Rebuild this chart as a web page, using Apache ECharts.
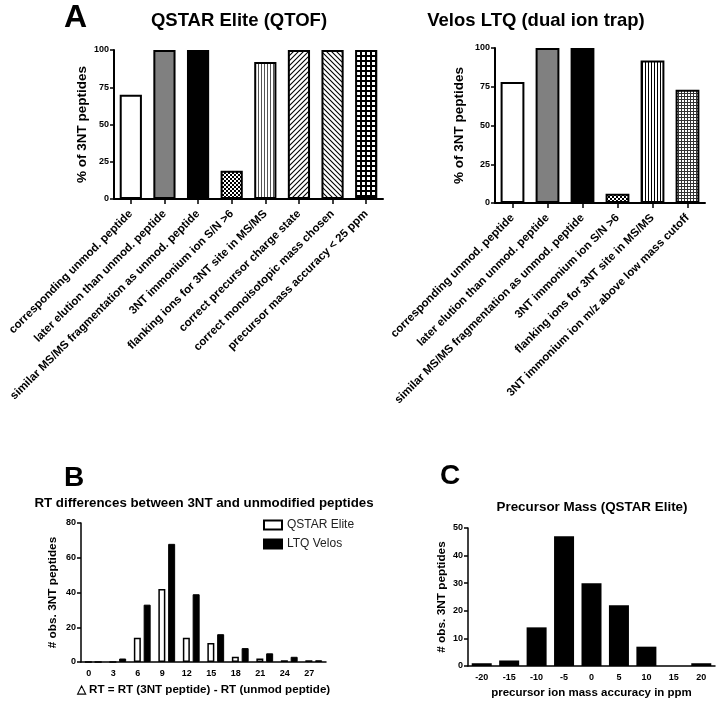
<!DOCTYPE html>
<html><head><meta charset="utf-8">
<script src="https://cdn.jsdelivr.net/npm/echarts@6/dist/echarts.min.js"></script>
<style>html,body{margin:0;padding:0;background:#fff}#c{width:724px;height:705px}</style>
</head><body><div id="c"></div>
<script>
// ---------- data ----------
const qstarCategories = [
  'corresponding unmod. peptide',
  'later elution than unmod. peptide',
  'similar MS/MS fragmentation as unmod. peptide',
  '3NT immonium ion S/N >6',
  'flanking ions for 3NT site in MS/MS',
  'correct precursor charge state',
  'correct monoisotopic mass chosen',
  'precursor mass accuracy < 25 ppm'
];
const qstarValues = [70, 100, 100, 19, 92, 100, 100, 100];

const velosCategories = [
  'corresponding unmod. peptide',
  'later elution than unmod. peptide',
  'similar MS/MS fragmentation as unmod. peptide',
  '3NT immonium ion S/N >6',
  'flanking ions for 3NT site in MS/MS',
  '3NT immonium ion m/z above low mass cutoff'
];
const velosValues = [78, 100, 100, 6, 92, 73];

const rtCategories = ['0', '3', '6', '9', '12', '15', '18', '21', '24', '27'];
const rtQstar = [0, 0, 14, 42, 14, 11, 3, 2, 1, 1];
const rtVelos = [0, 2, 33, 68, 39, 16, 8, 5, 3, 1];

const ppmCategories = ['-20', '-15', '-10', '-5', '0', '5', '10', '15', '20'];
const ppmCounts = [1, 2, 14, 47, 30, 22, 7, 0, 1];

// ---------- styles ----------
const FONT = '"Liberation Sans", Arial, sans-serif';
function pat(w, h, draw) {
  const c = document.createElement('canvas');
  c.width = w; c.height = h;
  const g = c.getContext('2d');
  g.fillStyle = '#fff'; g.fillRect(0, 0, w, h);
  draw(g);
  return { image: c, repeat: 'repeat' };
}
const checker = pat(4, 4, g => { g.fillStyle = '#000'; g.fillRect(0, 0, 2, 2); g.fillRect(2, 2, 2, 2); });
const vstripeGray = pat(3, 1, g => { g.fillStyle = '#555'; g.fillRect(0, 0, 1, 1); });
const vstripeBlack = pat(3, 1, g => { g.fillStyle = '#000'; g.fillRect(0, 0, 1, 1); });
const diagFwd = pat(5, 5, g => {
  g.strokeStyle = '#000'; g.lineWidth = 1.1; g.beginPath();
  g.moveTo(0, 5); g.lineTo(5, 0); g.moveTo(-1, 1); g.lineTo(1, -1); g.moveTo(4, 6); g.lineTo(6, 4); g.stroke();
});
const diagBack = pat(5, 5, g => {
  g.strokeStyle = '#000'; g.lineWidth = 1.1; g.beginPath();
  g.moveTo(0, 0); g.lineTo(5, 5); g.moveTo(-1, 4); g.lineTo(1, 6); g.moveTo(4, -1); g.lineTo(6, 1); g.stroke();
});
const gridCoarse = pat(5, 5, g => { g.fillStyle = '#000'; g.fillRect(0, 0, 5, 2); g.fillRect(0, 0, 2, 5); });
const gridFine = pat(3, 3, g => { g.fillStyle = '#333'; g.fillRect(0, 0, 3, 1); g.fillRect(0, 0, 1, 3); });

const qstarFills = ['#ffffff', '#808080', '#000000', checker, vstripeGray, diagFwd, diagBack, gridCoarse];
const velosFills = ['#ffffff', '#808080', '#000000', checker, vstripeBlack, gridFine];

const axisLineA = { show: true, lineStyle: { color: '#000', width: 2 } };
const axisLineB = { show: true, lineStyle: { color: '#000', width: 1.5 } };
const tickLabel = { color: '#000', fontSize: 9, fontWeight: 'bold', fontFamily: FONT };

function catAxisA(grid, cats) {
  return {
    type: 'category', gridIndex: grid, data: cats,
    axisLine: axisLineA,
    axisTick: { show: true, alignWithLabel: true, length: 5, lineStyle: { color: '#000', width: 1.5 } },
    axisLabel: { interval: 0, rotate: 45, margin: 13, color: '#000', fontSize: 11.5, fontWeight: 'bold', fontFamily: FONT }
  };
}
function valAxis(grid, max, interval, name, gap, nameSize, line) {
  return {
    type: 'value', gridIndex: grid, min: 0, max: max, interval: interval,
    name: name, nameLocation: 'middle', nameRotate: 90, nameGap: gap,
    nameTextStyle: { color: '#000', fontSize: nameSize, fontWeight: 'bold', fontFamily: FONT },
    axisLine: line,
    axisTick: { show: true, length: 4, lineStyle: { color: '#000', width: 1.5 } },
    splitLine: { show: false },
    axisLabel: Object.assign({ margin: 5 }, tickLabel)
  };
}

const chart = echarts.init(document.getElementById('c'), null, { renderer: 'canvas' });
chart.setOption({
  backgroundColor: '#fff',
  animation: false,
  textStyle: { fontFamily: FONT },
  grid: [
    { left: 114, top: 50, width: 269, height: 149 },
    { left: 495, top: 48, width: 210, height: 155 },
    { left: 81, top: 523, width: 245, height: 139 },
    { left: 468, top: 528, width: 247, height: 138 }
  ],
  xAxis: [
    catAxisA(0, qstarCategories),
    catAxisA(1, velosCategories),
    {
      type: 'category', gridIndex: 2, data: rtCategories,
      name: '△ RT = RT (3NT peptide) - RT (unmod peptide)', nameLocation: 'middle', nameGap: 22,
      nameTextStyle: { color: '#000', fontSize: 11.6, fontWeight: 'bold', fontFamily: FONT },
      axisLine: axisLineB, axisTick: { show: false },
      axisLabel: Object.assign({ interval: 0, margin: 7, padding: [0, 9, 0, 0] }, tickLabel)
    },
    {
      type: 'category', gridIndex: 3, data: ppmCategories,
      name: 'precursor ion mass accuracy in ppm', nameLocation: 'middle', nameGap: 21,
      nameTextStyle: { color: '#000', fontSize: 11.5, fontWeight: 'bold', fontFamily: FONT },
      axisLine: axisLineB, axisTick: { show: false },
      axisLabel: Object.assign({ interval: 0, margin: 7 }, tickLabel)
    }
  ],
  yAxis: [
    valAxis(0, 100, 25, '% of 3NT peptides', 25, 13.5, axisLineA),
    valAxis(1, 100, 25, '% of 3NT peptides', 29, 13.5, axisLineA),
    valAxis(2, 80, 20, '# obs. 3NT peptides', 22, 11.8, axisLineB),
    valAxis(3, 50, 10, '# obs. 3NT peptides', 20, 11.8, axisLineB)
  ],
  legend: {
    data: ['QSTAR Elite', 'LTQ Velos'], orient: 'vertical', left: 258, top: 514,
    itemWidth: 18, itemHeight: 9, itemGap: 7, icon: 'rect',
    textStyle: { fontSize: 12, color: '#222', fontFamily: FONT }
  },
  series: [
    {
      type: 'bar', xAxisIndex: 0, yAxisIndex: 0, barWidth: '66%',
      itemStyle: { borderColor: '#000', borderWidth: 2 },
      data: qstarValues.map((v, i) => ({ value: v, itemStyle: { color: qstarFills[i] } }))
    },
    {
      type: 'bar', xAxisIndex: 1, yAxisIndex: 1, barWidth: '68%',
      itemStyle: { borderColor: '#000', borderWidth: 2 },
      data: velosValues.map((v, i) => ({ value: v, itemStyle: { color: velosFills[i] } }))
    },
    {
      name: 'QSTAR Elite', type: 'bar', xAxisIndex: 2, yAxisIndex: 2, barWidth: 7, barGap: '40%',
      itemStyle: { color: '#fff', borderColor: '#000', borderWidth: 1.5 },
      data: rtQstar
    },
    {
      name: 'LTQ Velos', type: 'bar', xAxisIndex: 2, yAxisIndex: 2, barWidth: 7, barGap: '40%',
      itemStyle: { color: '#000', borderColor: '#000', borderWidth: 1 },
      data: rtVelos
    },
    {
      type: 'bar', xAxisIndex: 3, yAxisIndex: 3, barWidth: 20,
      itemStyle: { color: '#000' },
      data: ppmCounts
    }
  ],
  graphic: [
    { type: 'text', x: 64, y: 2, style: { text: 'A', font: 'bold 32px ' + FONT, fill: '#000', textAlign: 'left', textVerticalAlign: 'top' } },
    { type: 'text', x: 239, y: 21, style: { text: 'QSTAR Elite (QTOF)', font: 'bold 18.5px ' + FONT, fill: '#000', textAlign: 'center', textVerticalAlign: 'middle' } },
    { type: 'text', x: 536, y: 21, style: { text: 'Velos LTQ (dual ion trap)', font: 'bold 18.5px ' + FONT, fill: '#000', textAlign: 'center', textVerticalAlign: 'middle' } },
    { type: 'text', x: 64, y: 464, style: { text: 'B', font: 'bold 28px ' + FONT, fill: '#000', textAlign: 'left', textVerticalAlign: 'top' } },
    { type: 'text', x: 204, y: 503, style: { text: 'RT differences between 3NT and unmodified peptides', font: 'bold 13.3px ' + FONT, fill: '#000', textAlign: 'center', textVerticalAlign: 'middle' } },
    { type: 'text', x: 440, y: 462, style: { text: 'C', font: 'bold 28px ' + FONT, fill: '#000', textAlign: 'left', textVerticalAlign: 'top' } },
    { type: 'text', x: 592, y: 507, style: { text: 'Precursor Mass (QSTAR Elite)', font: 'bold 13.4px ' + FONT, fill: '#000', textAlign: 'center', textVerticalAlign: 'middle' } }
  ]
});
</script>
</body></html>
